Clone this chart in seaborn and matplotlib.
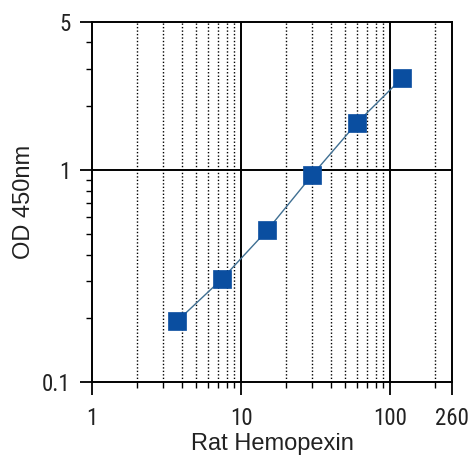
import numpy as np
import pandas as pd
import matplotlib
matplotlib.use("Agg")
import matplotlib.pyplot as plt
import seaborn as sns
from matplotlib.ticker import FixedLocator, NullFormatter

# standard curve values
concentration = [3.75, 7.5, 15, 30, 60, 120]
od_450 = [0.195, 0.308, 0.521, 0.947, 1.67, 2.71]

x_ticks = [1, 10, 100, 260]
x_minor = [2, 3, 4, 5, 6, 7, 8, 9, 20, 30, 40, 50, 60, 70, 80, 90, 200]
y_ticks = [0.1, 1, 5]
y_minor = [0.2, 0.3, 0.4, 0.5, 0.6, 0.7, 0.8, 0.9, 2, 3, 4]

df = pd.DataFrame({"conc": concentration, "od": od_450})

sns.set_style("ticks")
plt.rcParams["font.family"] = ["Liberation Sans", "DejaVu Sans"]
tick_font = ["Roboto Condensed", "Liberation Sans", "DejaVu Sans"]

fig = plt.figure(figsize=(4.73, 4.58), dpi=100)
ax = fig.add_axes([0.194, 0.165, 0.762, 0.788])

ax.set_xscale("log")
ax.set_yscale("log")
ax.set_xlim(1, 260)
ax.set_ylim(0.1, 5)

# grid: dotted minor verticals, solid majors
for v in x_minor:
    ax.axvline(v, color="black", lw=1.0, ls=(0, (1, 1.5)), zorder=1)
for v in [10, 100]:
    ax.axvline(v, color="black", lw=1.4, zorder=1)
ax.axhline(1, color="black", lw=1.4, zorder=1)

sns.lineplot(data=df, x="conc", y="od", ax=ax, color="#3f6f92", lw=1.0, zorder=3)
sns.scatterplot(data=df, x="conc", y="od", ax=ax, marker="s", s=180,
                color="#0a4ea0", edgecolor="#0a4ea0", linewidth=0.5, zorder=4)

ax.xaxis.set_major_locator(FixedLocator(x_ticks))
ax.xaxis.set_minor_locator(FixedLocator(x_minor))
ax.yaxis.set_major_locator(FixedLocator(y_ticks))
ax.yaxis.set_minor_locator(FixedLocator(y_minor))
ax.set_xticklabels([str(t) for t in x_ticks], family=tick_font, fontsize=16.5)
ax.set_yticklabels(["0.1", "1", "5"], family=tick_font, fontsize=16.5)
ax.xaxis.set_minor_formatter(NullFormatter())
ax.yaxis.set_minor_formatter(NullFormatter())

ax.tick_params(which="major", direction="out", length=9, width=1.3, color="black",
               labelcolor="#222222")
ax.tick_params(axis="x", which="major", pad=9)
ax.tick_params(axis="y", which="major", pad=6)
ax.tick_params(which="minor", direction="out", length=4.5, width=1.0, color="black")

for sp in ax.spines.values():
    sp.set_color("black")
    sp.set_linewidth(1.4)

ax.set_xlabel("Rat Hemopexin", fontsize=17, color="#222222", labelpad=2)
ax.set_ylabel("OD 450nm", fontsize=17, color="#222222", labelpad=5)

fig.savefig("out.png", dpi=100)
